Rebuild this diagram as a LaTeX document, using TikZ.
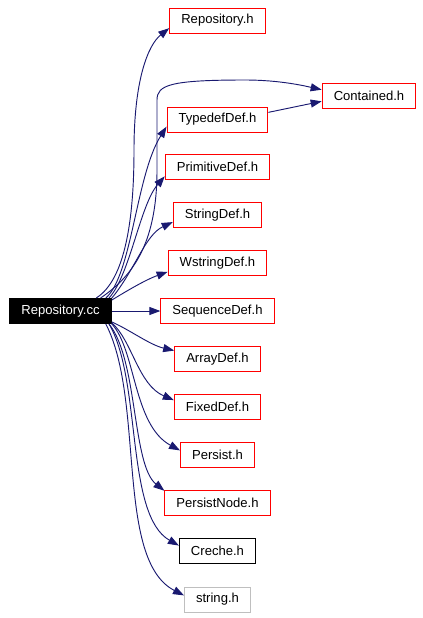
\documentclass[tikz,border=0pt]{standalone}
\usepackage{fontspec}
\setmainfont{Liberation Sans}
\usetikzlibrary{arrows.meta}
\definecolor{edgeblue}{RGB}{25,25,112}
\definecolor{hdrgray}{RGB}{191,191,191}
\tikzset{
  hdr/.style={draw=red, line width=0.75pt, minimum height=18.75pt, inner xsep=8.7pt, font=\fontsize{9.8}{11}\selectfont},
  dep/.style={edgeblue, line width=0.7pt, -{Triangle[length=8.25pt,width=6pt]}},
}
\begin{document}
\begin{tikzpicture}[x=0.75pt,y=-0.75pt]
  \useasboundingbox (0,0) rectangle (423,618);
  \node[hdr, draw=black, fill=black, text=white] (rcc) at (60.5,311) {Repository.cc};
  \node[hdr] (rh)    at (217.5,20.5) {Repository.h};
  \node[hdr] (cont)  at (369,95.5)   {Contained.h};
  \node[hdr] (td)    at (217.5,119.5) {TypedefDef.h};
  \node[hdr] (pd)    at (217.5,167)  {PrimitiveDef.h};
  \node[hdr] (sd)    at (217.5,215)  {StringDef.h};
  \node[hdr] (wd)    at (217.5,263)  {WstringDef.h};
  \node[hdr] (seq)   at (217.5,311)  {SequenceDef.h};
  \node[hdr] (ad)    at (217.5,359)  {ArrayDef.h};
  \node[hdr] (fd)    at (217.5,407)  {FixedDef.h};
  \node[hdr] (ph)    at (217.5,455)  {Persist.h};
  \node[hdr] (pn)    at (217.5,503)  {PersistNode.h};
  \node[hdr, draw=black] (creche) at (217.5,551) {Creche.h};
  \node[hdr, draw=hdrgray] (sh)   at (217.5,599.5) {string.h};
  % upward edges
  \draw[dep] (rcc.20) .. controls (125,280) and (134,220) .. (134,150)
    .. controls (134,80) and (148,45) .. (rh.189);
  \draw[dep] (rcc.18) .. controls (135,275) and (157,240) .. (157,170) -- (157,100)
    .. controls (157,85) and (170,80) .. (245,80)
    .. controls (280,80) and (305,86) .. (cont.173);
  \draw[dep] (td.8) -- (cont.187);
  \draw[dep] (rcc.16) .. controls (132,275) and (136,175) .. (td.188);
  \draw[dep] (rcc.15) .. controls (130,275) and (140,205) .. (pd.190);
  \draw[dep] (rcc.14) .. controls (135,270) and (145,235) .. (sd.189);
  \draw[dep] (rcc.12) .. controls (125,292) and (145,280) .. (wd.190);
  \draw[dep] (rcc.east) -- (seq.west);
  % downward edges
  \draw[dep] (rcc.-12) .. controls (130,330) and (150,345) .. (ad.169);
  \draw[dep] (rcc.-13) .. controls (132,340) and (138,385) .. (fd.171);
  \draw[dep] (rcc.-14) .. controls (136,350) and (133,425) .. (ph.173);
  \draw[dep] (rcc.-15) .. controls (138,360) and (132,465) .. (pn.167);
  \draw[dep] (rcc.-15) .. controls (142,380) and (125,515) .. (creche.172);
  \draw[dep] (rcc.-16) .. controls (145,400) and (115,560) .. (sh.173);
\end{tikzpicture}
\end{document}
